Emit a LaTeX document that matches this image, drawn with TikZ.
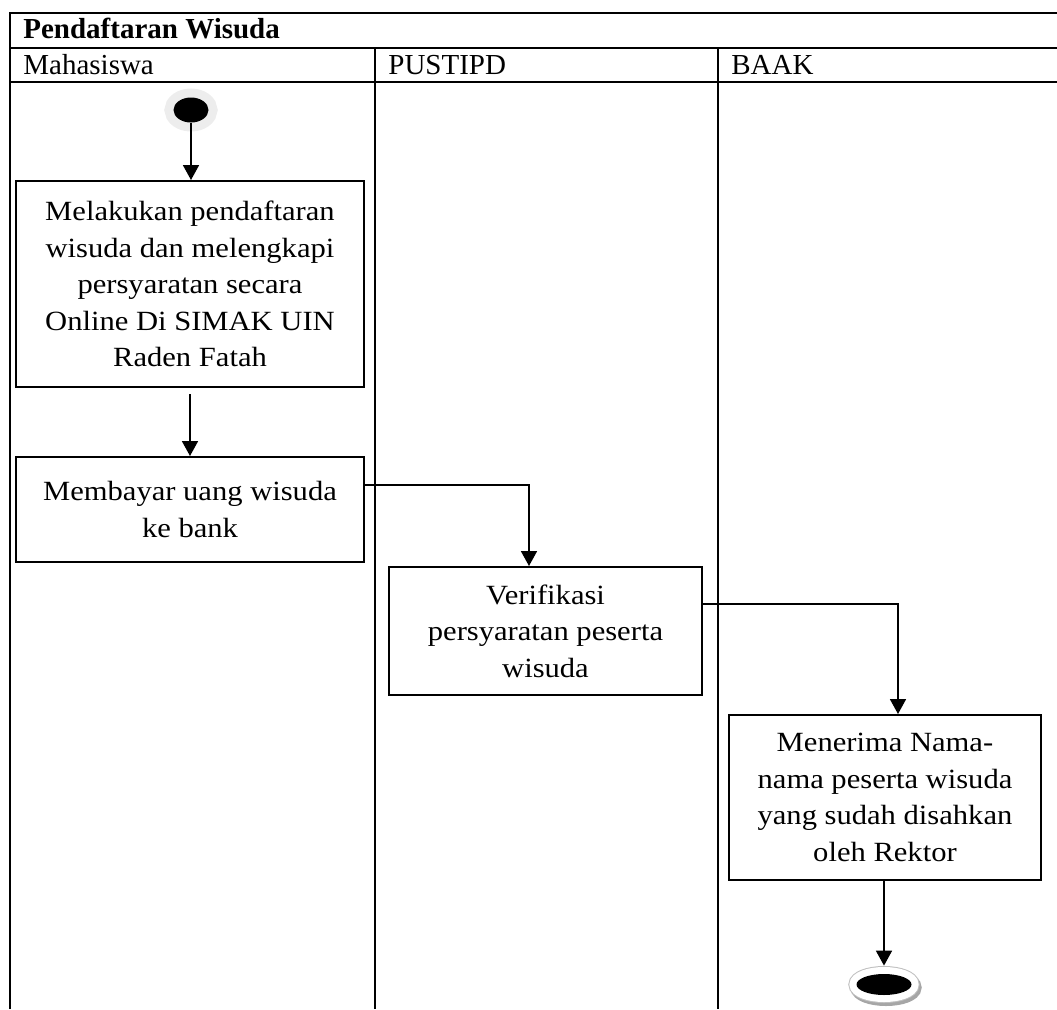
\documentclass[tikz,border=0pt]{standalone}
\usepackage{fontspec}
\setmainfont{Liberation Serif}
\newfontfamily\actfont{Liberation Serif}[FakeStretch=1.1]
\usepackage{tikz}
\usetikzlibrary{arrows.meta,shapes.geometric}

\begin{document}
\begin{tikzpicture}[x=0.5pt,y=-0.5pt,lane/.style={line width=1pt},
lanehead/.style={anchor=base west,inner sep=0pt,font=\fontsize{14.5}{17}\selectfont},
act/.style n args={2}{draw,line width=1pt,minimum width=#1pt,minimum height=#2pt,align=center,inner sep=2pt,font=\actfont\fontsize{13.9}{18.25}\selectfont},
flow/.style={-{Triangle[width=8pt,length=7.5pt]},line width=0.9pt},
startdot/.style={ellipse,fill=black,inner sep=0pt,minimum width=17.5pt,minimum height=12.5pt,preaction={draw=black!7,line width=9pt}},
enddot/.style={ellipse,fill=black,inner sep=0pt,minimum width=27.5pt,minimum height=10.5pt,
   preaction={draw=black!35,line width=8pt,transform canvas={xshift=1pt,yshift=-1.5pt}},
   preaction={draw=black!25,line width=8pt},
   preaction={draw=white,line width=7pt}}]
\useasboundingbox (0,0) rectangle (1057,1009);
\draw[lane] (10,1009) -- (10,13) -- (1057,13);
\draw[lane] (10,48) -- (1057,48);
\draw[lane] (10,82) -- (1057,82);
\foreach \x in {375,718} {
   \draw[lane] (\x,48) -- (\x,1009);
}
\node[lanehead,font=\bfseries\fontsize{14.5}{17}\selectfont] (title) at (23,38) {Pendaftaran Wisuda};
\foreach \x/\lane in %
{10/Mahasiswa,375/PUSTIPD,718/BAAK} {
   \node[lanehead] (\lane) at (\x+13,74) {\lane};
}
\node[startdot] (start) at (191,110) {};
\node[act={174}{103}] (daftar) at (190,284) {Melakukan pendaftaran\\wisuda dan melengkapi\\persyaratan secara\\Online Di SIMAK UIN\\Raden Fatah};
\node[act={174}{52.5}] (bayar) at (190,509.5) {Membayar uang wisuda\\ke bank};
\node[act={156.5}{64}] (verif) at (545.5,631) {Verifikasi\\persyaratan peserta\\wisuda};
\node[act={156}{82.5}] (terima) at (885,797.5) {Menerima Nama-\\nama peserta wisuda\\yang sudah disahkan\\oleh Rektor};
\node[enddot] (finish) at (884,984.5) {};
\draw[flow] (start) -- (start |- daftar.north);
\draw[flow,shorten <=3pt] (daftar) -- (bayar);
\draw[flow] ([yshift=12.25pt]bayar.east) -| ([xshift=-8.25pt]verif.north);
\draw[flow] ([yshift=13.5pt]verif.east) -| ([xshift=6.5pt]terima.north);
\draw[flow,shorten >=4pt] (terima.south -| finish) -- (finish);
\end{tikzpicture}
\end{document}
